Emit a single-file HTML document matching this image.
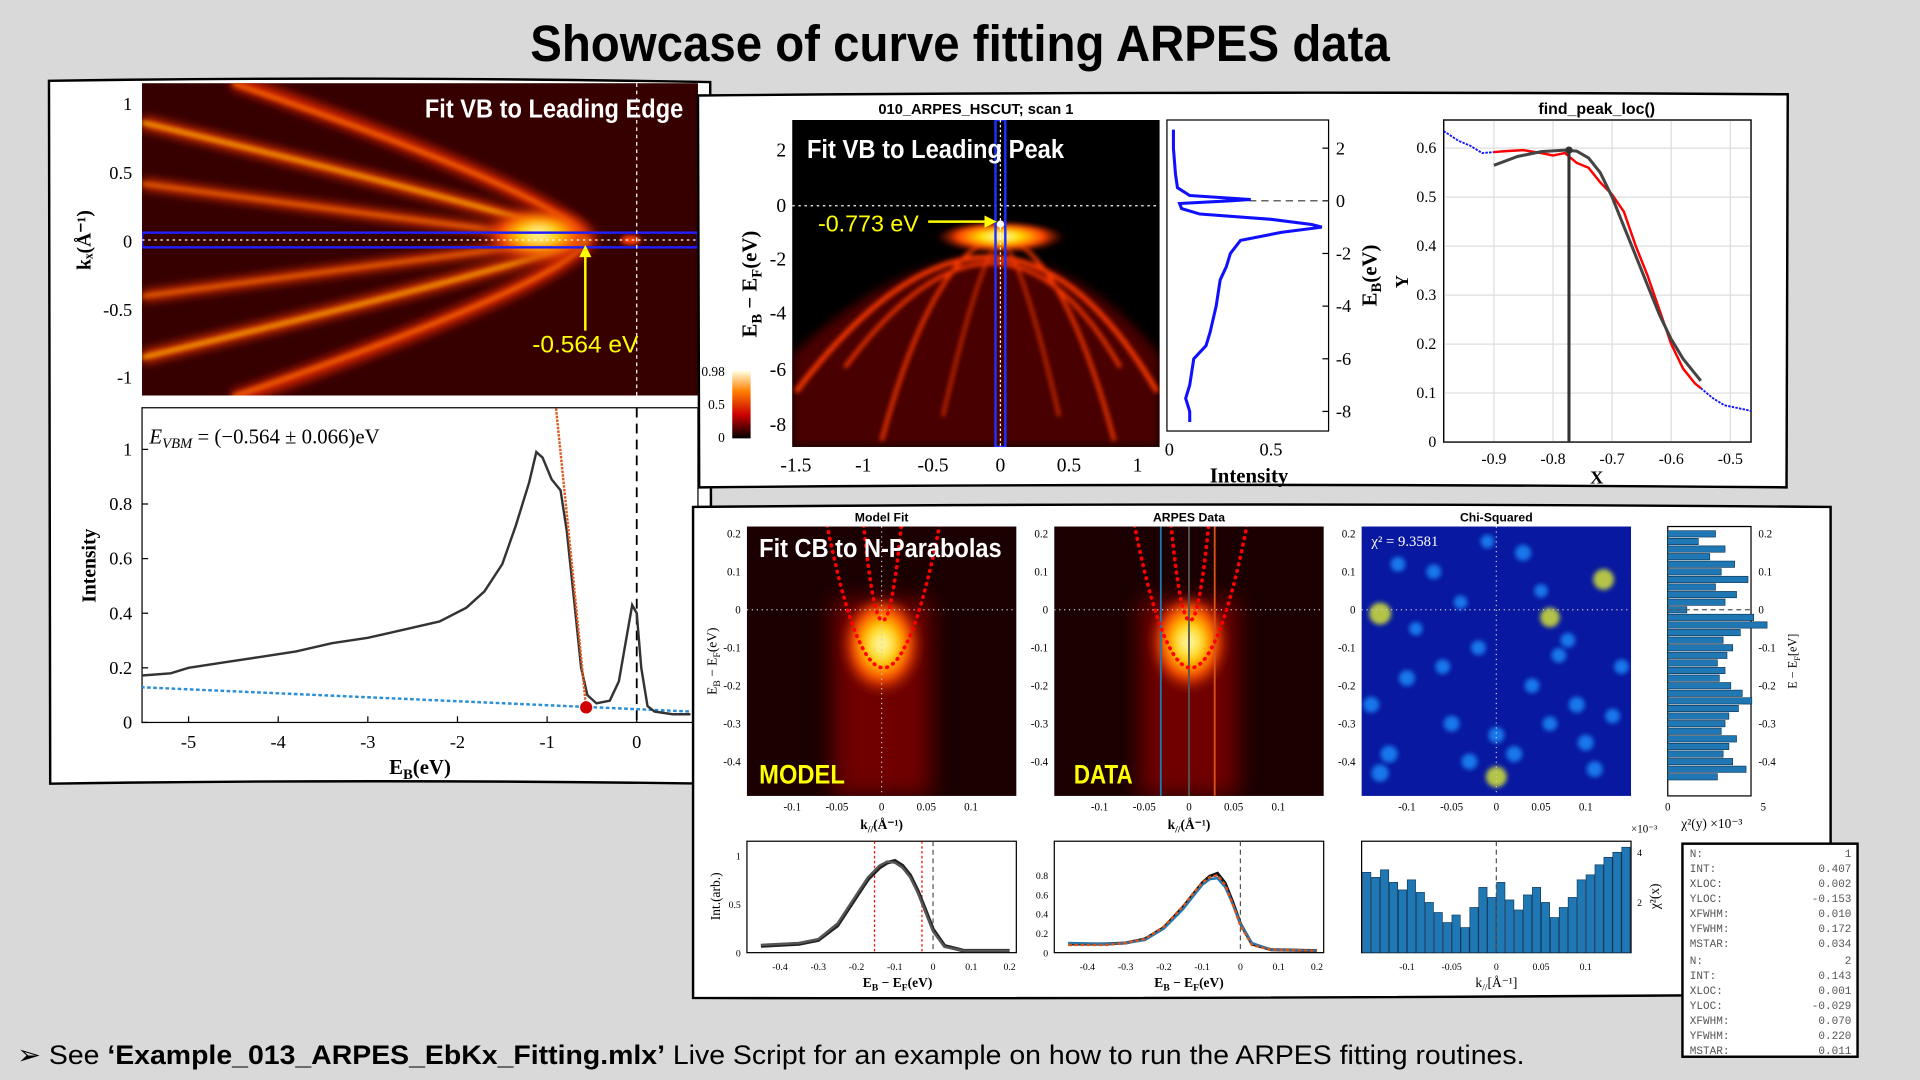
<!DOCTYPE html>
<html><head><meta charset="utf-8"><style>
html,body{margin:0;padding:0;background:#d9d9d9;overflow:hidden}
svg{display:block}
text{font-family:"Liberation Serif",serif}
.n{font-family:"Liberation Sans Narrow","Liberation Sans",sans-serif}
.s{font-family:"Liberation Sans",sans-serif}
.m text{font-family:"Liberation Mono",monospace}
</style></head><body>
<svg id="svg" width="1920" height="1080" viewBox="0 0 1568 882" preserveAspectRatio="none" xmlns="http://www.w3.org/2000/svg">
<defs>
<filter id="bl" x="-20%" y="-20%" width="140%" height="140%"><feGaussianBlur stdDeviation="4"/></filter>
<filter id="bl2" x="-20%" y="-20%" width="140%" height="140%"><feGaussianBlur stdDeviation="2"/></filter>
<filter id="bl8" x="-50%" y="-50%" width="200%" height="200%"><feGaussianBlur stdDeviation="9"/></filter>
<radialGradient id="hot" cx="50%" cy="40%" r="50%"><stop offset="0" stop-color="#fffbe0"/><stop offset="0.3" stop-color="#ffe000"/><stop offset="0.65" stop-color="#ff4000"/><stop offset="1" stop-color="#400000" stop-opacity="0"/></radialGradient>
<linearGradient id="cbar" x1="0" y1="1" x2="0" y2="0"><stop offset="0" stop-color="#000"/><stop offset="0.35" stop-color="#c00"/><stop offset="0.7" stop-color="#ff8000"/><stop offset="1" stop-color="#ffffe0"/></linearGradient>
<clipPath id="c1"><rect x="116" y="68" width="454" height="255"/></clipPath>
<clipPath id="c2"><rect x="647" y="98" width="300" height="267"/></clipPath>
<clipPath id="c3"><rect x="610" y="430" width="220" height="220"/></clipPath>
<clipPath id="c4"><rect x="861" y="430" width="220" height="220"/></clipPath>
</defs>
<rect width="1568" height="882" fill="#d9d9d9"/>
<text x="433" y="50" textLength="702" lengthAdjust="spacingAndGlyphs" class="s" font-size="42" font-weight="bold">Showcase of curve fitting ARPES data</text>

<!-- Panel 1 -->
<g>
<path d="M40 66 Q300 62 580 67 L581 640 Q300 636 41 640 Z" fill="#fff" stroke="#000" stroke-width="2"/>
<g>
<rect x="116" y="68" width="454" height="255" fill="#1a0000"/>
<g clip-path="url(#c1)">
<rect x="116" y="68" width="454" height="255" fill="#4a0000" opacity="0.6"/>
<g fill="none" filter="url(#bl)">
<path d="M190 66 Q460 160 480 196 Q460 232 190 326" stroke-width="12" stroke="#d02000"/>
<path d="M116 100 Q430 175 478 196 Q430 217 116 292" stroke-width="10" stroke="#e03000"/>
<path d="M116 150 Q400 188 470 196 Q400 204 116 242" stroke-width="8" stroke="#e03000"/>
</g>
<g fill="none" filter="url(#bl2)" stroke="#ffb000">
<path d="M190 68 Q460 160 480 196 Q460 232 190 324" stroke-width="3" stroke="#ff7000"/>
<path d="M116 100 Q430 175 478 196 Q430 217 116 292" stroke-width="3"/>
<path d="M116 150 Q400 188 470 196 Q400 204 116 242" stroke-width="2" stroke="#ff8000"/>
</g>
<ellipse cx="440" cy="196" rx="50" ry="24" fill="url(#hot)" filter="url(#bl)"/>
<ellipse cx="515" cy="196" rx="8" ry="4" fill="#ff4000" filter="url(#bl2)"/>
<rect x="116" y="190" width="454" height="12" fill="none" stroke="#2020ff" stroke-width="2"/>
<line x1="116" y1="196" x2="570" y2="196" stroke="#fff" stroke-dasharray="2 3" stroke-width="1"/>
<line x1="520" y1="68" x2="520" y2="323" stroke="#fff" stroke-dasharray="3 3"/>
<line x1="478" y1="270" x2="478" y2="202" stroke="#ff0" stroke-width="2"/>
<path d="M473 210 L478 200 L483 210 Z" fill="#ff0"/>
</g>
<text x="347" y="96" textLength="211" lengthAdjust="spacingAndGlyphs" class="s" font-size="21" font-weight="bold" fill="#fff">Fit VB to Leading Edge</text>
<text x="478" y="288" text-anchor="middle" class="s" font-size="20" fill="#ff0">-0.564 eV</text>
<g font-size="15" text-anchor="end">
<text x="108" y="90">1</text><text x="108" y="146">0.5</text><text x="108" y="202">0</text><text x="108" y="258">-0.5</text><text x="108" y="313">-1</text>
</g>
<text transform="translate(74 196) rotate(-90)" text-anchor="middle" font-size="16" font-weight="bold">kₓ(Å⁻¹)</text>
</g>
<g id="edc1">
<rect x="116" y="333" width="454" height="257" fill="#fff" stroke="#000"/>
<text x="122" y="362" font-size="17" font-style="italic">E<tspan font-size="12" dy="4">VBM</tspan><tspan dy="-4" font-style="normal"> = (−0.564 ± 0.066)eV</tspan></text>
<text transform="translate(78 462) rotate(-90)" text-anchor="middle" font-size="16" font-weight="bold">Intensity</text>
<text x="343" y="632" text-anchor="middle" font-size="17" font-weight="bold">E<tspan font-size="12" dy="4">B</tspan><tspan dy="-4">(eV)</tspan></text>
</g>
</g>

<!-- Panel 2 -->
<g>
<path d="M570 78 Q1000 74 1460 77 L1459 398 Q1000 394 571 398 Z" fill="#fff" stroke="#000" stroke-width="2"/>
<text x="797" y="93" text-anchor="middle" class="s" font-size="12" font-weight="bold">010_ARPES_HSCUT; scan 1</text>
<g>
<rect x="647" y="98" width="300" height="267" fill="#000"/>
<g clip-path="url(#c2)">
<path d="M647 290 Q817 130 947 290 L947 365 L647 365 Z" fill="#4a0000" filter="url(#bl)"/>
<g fill="none" stroke="#ff3a00" filter="url(#bl2)">
<path d="M650 320 Q817 100 945 320" stroke-width="4"/>
<path d="M690 300 Q817 130 915 300" stroke-width="3"/>
<path d="M720 360 Q760 210 817 190 Q870 210 910 360" stroke-width="3"/>
<path d="M770 340 Q800 210 817 195 Q835 210 865 340" stroke-width="2"/>
</g>
<ellipse cx="817" cy="196" rx="55" ry="14" fill="url(#hot)" filter="url(#bl2)"/>
<line x1="647" y1="168" x2="947" y2="168" stroke="#fff" stroke-dasharray="2 3"/>
<rect x="813" y="98" width="8" height="267" fill="none" stroke="#2030ff" stroke-width="2"/>
<line x1="817" y1="98" x2="817" y2="365" stroke="#fff" stroke-dasharray="2 2"/>
<circle cx="817" cy="183" r="3" fill="#fff"/>
<line x1="758" y1="181" x2="810" y2="181" stroke="#ff0" stroke-width="2"/>
<path d="M804 176 L814 181 L804 186 Z" fill="#ff0"/>
</g>
<text x="659" y="129" textLength="210" lengthAdjust="spacingAndGlyphs" class="s" font-size="21" font-weight="bold" fill="#fff">Fit VB to Leading Peak</text>
<text x="668" y="189" class="s" font-size="19" fill="#ff0">-0.773 eV</text>
<g font-size="16" text-anchor="end"><text x="642" y="128">2</text><text x="642" y="173">0</text><text x="642" y="217">-2</text><text x="642" y="261">-4</text><text x="642" y="307">-6</text><text x="642" y="352">-8</text></g>
<g font-size="16" text-anchor="middle"><text x="650" y="385">-1.5</text><text x="705" y="385">-1</text><text x="762" y="385">-0.5</text><text x="817" y="385">0</text><text x="873" y="385">0.5</text><text x="929" y="385">1</text></g>
<text transform="translate(618 232) rotate(-90)" text-anchor="middle" font-size="17" font-weight="bold">E<tspan font-size="12" dy="4">B</tspan><tspan dy="-4"> − E</tspan><tspan font-size="12" dy="4">F</tspan><tspan dy="-4">(eV)</tspan></text>
<rect x="598" y="303" width="15" height="55" fill="url(#cbar)"/>
<g font-size="11" text-anchor="end"><text x="592" y="307">0.98</text><text x="592" y="334">0.5</text><text x="592" y="361">0</text></g>
</g>
<g id="edc2">
<rect x="953" y="98" width="132" height="254" fill="#fff" stroke="#000"/>
<text x="1020" y="394" text-anchor="middle" font-size="17" font-weight="bold">Intensity</text>
<text transform="translate(1124 225) rotate(-90)" text-anchor="middle" font-size="17" font-weight="bold">E<tspan font-size="12" dy="4">B</tspan><tspan dy="-4">(eV)</tspan></text>
</g>
<g id="fpl">
<text x="1304" y="93" text-anchor="middle" class="s" font-size="13" font-weight="bold">find_peak_loc()</text>
<text x="1304" y="395" text-anchor="middle" font-size="15" font-weight="bold">X</text>
<text transform="translate(1150 230) rotate(-90)" text-anchor="middle" font-size="15" font-weight="bold">Y</text>
</g>
</g>

<!-- Panel 3 -->
<g>
<path d="M566 414 Q1000 410 1495 414 L1495 812 Q1000 816 566 815 Z" fill="#fff" stroke="#000" stroke-width="2"/>
<text x="720" y="426" text-anchor="middle" class="s" font-size="10" font-weight="bold">Model Fit</text>
<text x="971" y="426" text-anchor="middle" class="s" font-size="10" font-weight="bold">ARPES Data</text>
<text x="1222" y="426" text-anchor="middle" class="s" font-size="10" font-weight="bold">Chi-Squared</text>
<g id="hm3">
<rect x="610" y="430" width="220" height="220" fill="#1a0000"/>
<g clip-path="url(#c3)">
<rect x="680" y="490" width="80" height="160" fill="#700000" filter="url(#bl8)"/>
<ellipse cx="720" cy="535" rx="36" ry="45" fill="url(#hot)" filter="url(#bl)"/>
<line x1="610" y1="498" x2="830" y2="498" stroke="#ccc" stroke-dasharray="1 3"/>
<line x1="720" y1="430" x2="720" y2="650" stroke="#ccc" stroke-dasharray="1 3"/>
</g>
<text x="620" y="455" textLength="198" lengthAdjust="spacingAndGlyphs" class="s" font-size="21" font-weight="bold" fill="#fff">Fit CB to N-Parabolas</text>
<text x="620" y="640" textLength="70" lengthAdjust="spacingAndGlyphs" class="s" font-size="22" font-weight="bold" fill="#ff0">MODEL</text>
</g>
<g id="hm4">
<rect x="861" y="430" width="220" height="220" fill="#1a0000"/>
<g clip-path="url(#c4)">
<rect x="931" y="490" width="80" height="160" fill="#700000" filter="url(#bl8)"/>
<ellipse cx="971" cy="533" rx="35" ry="44" fill="url(#hot)" filter="url(#bl)"/>
<line x1="861" y1="498" x2="1081" y2="498" stroke="#ccc" stroke-dasharray="1 3"/>
<line x1="948" y1="430" x2="948" y2="650" stroke="#1f77b4" stroke-width="1.5"/>
<line x1="971" y1="430" x2="971" y2="650" stroke="#555" stroke-width="1.5"/>
<line x1="992" y1="430" x2="992" y2="650" stroke="#d95319" stroke-width="1.5"/>
</g>
<text x="877" y="640" textLength="48" lengthAdjust="spacingAndGlyphs" class="s" font-size="22" font-weight="bold" fill="#ff0">DATA</text>
</g>
<g id="chi">
<rect x="1112" y="430" width="220" height="220" fill="#0818a0"/>
<text x="1120" y="446" font-size="12" fill="#fff">χ² = 9.3581</text>
</g>
<g id="axes3"></g>
<text x="720" y="677" text-anchor="middle" font-size="11" font-weight="bold">k<tspan font-size="8" dy="3">//</tspan><tspan dy="-3">(Å⁻¹)</tspan></text>
<text x="971" y="677" text-anchor="middle" font-size="11" font-weight="bold">k<tspan font-size="8" dy="3">//</tspan><tspan dy="-3">(Å⁻¹)</tspan></text>
<text transform="translate(585 540) rotate(-90)" text-anchor="middle" font-size="11">E<tspan font-size="8" dy="3">B</tspan><tspan dy="-3"> − E</tspan><tspan font-size="8" dy="3">F</tspan><tspan dy="-3">(eV)</tspan></text>
<text transform="translate(1467 540) rotate(-90)" text-anchor="middle" font-size="10">E − E<tspan font-size="7" dy="3">F</tspan><tspan dy="-3">[eV]</tspan></text>
<text x="1398" y="676" text-anchor="middle" font-size="11">χ²(y)  ×10⁻³</text>
<text x="733" y="806" text-anchor="middle" font-size="11" font-weight="bold">E<tspan font-size="8" dy="3">B</tspan><tspan dy="-3"> − E</tspan><tspan font-size="8" dy="3">F</tspan><tspan dy="-3">(eV)</tspan></text>
<text x="971" y="806" text-anchor="middle" font-size="11" font-weight="bold">E<tspan font-size="8" dy="3">B</tspan><tspan dy="-3"> − E</tspan><tspan font-size="8" dy="3">F</tspan><tspan dy="-3">(eV)</tspan></text>
<text x="1222" y="806" text-anchor="middle" font-size="11">k<tspan font-size="8" dy="3">//</tspan><tspan dy="-3">[Å⁻¹]</tspan></text>
<text transform="translate(588 732) rotate(-90)" text-anchor="middle" font-size="11">Int.(arb.)</text>
<text transform="translate(1355 732) rotate(-90)" text-anchor="middle" font-size="11">χ²(x)</text>
<text x="1332" y="680" font-size="9">×10⁻³</text>
</g>

<g>
<rect x="1374" y="689" width="143" height="174" fill="#fff" stroke="#000" stroke-width="2"/>
<g id="tbl" class="m" font-size="9" fill="#555"></g>
</g>

<text x="14" y="869" textLength="1231" lengthAdjust="spacingAndGlyphs" class="s" font-size="22">➢  See <tspan font-weight="bold">‘Example_013_ARPES_EbKx_Fitting.mlx’</tspan> Live Script for an example on how to run the ARPES fitting routines.</text>
</svg>
<script>
// ---- data arrays ----
const edc1E = [-5.6,-5.2,-5,-4.6,-4.2,-3.8,-3.4,-3,-2.6,-2.2,-1.9,-1.7,-1.5,-1.35,-1.2,-1.12,-1.05,-0.95,-0.85,-0.78,-0.7,-0.62,-0.55,-0.45,-0.3,-0.2,-0.12,-0.05,0,0.05,0.12,0.2,0.4,0.6];
const edc1I = [0.17,0.18,0.2,0.22,0.24,0.26,0.29,0.31,0.34,0.37,0.42,0.48,0.58,0.72,0.88,0.99,0.97,0.89,0.85,0.7,0.45,0.2,0.1,0.07,0.08,0.15,0.3,0.43,0.4,0.2,0.06,0.04,0.03,0.03];
const edc1FitE = [-0.9,-0.8,-0.7,-0.6,-0.564];
const edc1FitI = [1.15,0.83,0.5,0.17,0.05];
const edc1BgE = [-5.6,0.6];
const edc1BgI = [0.13,0.04];
const edc1Xticks = [-5,-4,-3,-2,-1,0];
const edc1Yticks = [0,0.2,0.4,0.6,0.8,1];

const edc2E = [2.7,2,1,0.5,0.2,0.05,0,-0.1,-0.3,-0.5,-0.7,-0.9,-1,-1.2,-1.5,-2,-2.5,-3,-4,-5,-5.5,-6,-7,-7.5,-8,-8.4];
const edc2I = [0.02,0.02,0.03,0.04,0.1,0.4,0.3,0.05,0.06,0.15,0.5,0.7,0.75,0.55,0.35,0.3,0.28,0.25,0.23,0.2,0.18,0.12,0.1,0.08,0.1,0.1];
const edc2Yticks = [2,0,-2,-4,-6,-8];
const edc2Xticks = [0,0.5];

const fplX = [-0.9,-0.88,-0.85,-0.82,-0.8,-0.78,-0.76,-0.74,-0.72,-0.7,-0.68,-0.66,-0.64,-0.62,-0.6,-0.58,-0.56,-0.55];
const fplY = [0.592,0.594,0.596,0.59,0.585,0.59,0.57,0.56,0.53,0.505,0.47,0.4,0.34,0.27,0.2,0.15,0.12,0.11];
const fitX = [-0.9,-0.86,-0.82,-0.78,-0.76,-0.74,-0.72,-0.7,-0.68,-0.66,-0.64,-0.62,-0.6,-0.58,-0.55];
const fitY = [0.565,0.583,0.593,0.596,0.594,0.58,0.55,0.5,0.44,0.38,0.32,0.26,0.21,0.17,0.125];
const edgeLX = [-0.985,-0.96,-0.94,-0.92,-0.9];
const edgeLY = [0.635,0.615,0.605,0.59,0.592];
const edgeRX = [-0.55,-0.53,-0.51,-0.49,-0.47,-0.465];
const edgeRY = [0.11,0.09,0.075,0.07,0.065,0.063];
const fplXticks = [-0.9,-0.8,-0.7,-0.6,-0.5];
const fplYticks = [0,0.1,0.2,0.3,0.4,0.5,0.6];

const kTicks = [-0.1,-0.05,0,0.05,0.1];
const eTicks = [0.2,0.1,0,-0.1,-0.2,-0.3,-0.4];
const parabA = [0.153,0.029]; // band bottoms (eV below EF)
const parabK0 = [0.002,0.001];
const parabC = [95,570]; // curvature eV/(1/A)^2

const mdcE = [-0.45,-0.35,-0.3,-0.25,-0.2,-0.17,-0.14,-0.12,-0.1,-0.08,-0.06,-0.04,-0.02,0,0.03,0.08,0.2];
const mdcModel = [0.08,0.1,0.14,0.3,0.6,0.78,0.9,0.94,0.93,0.88,0.78,0.62,0.42,0.22,0.06,0.02,0.02];
const mdcData = [0.07,0.09,0.13,0.28,0.58,0.76,0.88,0.93,0.95,0.9,0.8,0.64,0.44,0.24,0.07,0.02,0.02];
const dcE = [-0.45,-0.35,-0.3,-0.25,-0.2,-0.15,-0.12,-0.1,-0.08,-0.06,-0.04,-0.02,0,0.03,0.08,0.2];
const dcBlue = [0.1,0.09,0.1,0.13,0.25,0.45,0.6,0.7,0.76,0.77,0.68,0.5,0.3,0.1,0.03,0.02];
const dcOrange = [0.08,0.08,0.1,0.14,0.27,0.48,0.63,0.72,0.78,0.8,0.7,0.5,0.28,0.08,0.03,0.02];
const dcBlack = [0.09,0.09,0.1,0.14,0.26,0.47,0.62,0.72,0.79,0.82,0.72,0.52,0.3,0.09,0.03,0.02];

const chiXk = [-0.145,-0.135,-0.125,-0.115,-0.105,-0.095,-0.085,-0.075,-0.065,-0.055,-0.045,-0.035,-0.025,-0.015,-0.005,0.005,0.015,0.025,0.035,0.045,0.055,0.065,0.075,0.085,0.095,0.105,0.115,0.125,0.135,0.145];
const chiXval = [3.2,3.0,3.3,2.8,2.5,2.9,2.4,2.0,1.6,1.2,1.5,1.0,1.8,2.6,2.2,2.8,2.1,1.7,2.3,2.6,2.0,1.4,1.8,2.2,2.9,3.1,3.5,3.8,4.0,4.2];
const chiYe = [0.2,0.18,0.16,0.14,0.12,0.1,0.08,0.06,0.04,0.02,0,-0.02,-0.04,-0.06,-0.08,-0.1,-0.12,-0.14,-0.16,-0.18,-0.2,-0.22,-0.24,-0.26,-0.28,-0.3,-0.32,-0.34,-0.36,-0.38,-0.4,-0.42,-0.44];
const chiYval = [2.5,1.6,3.0,2.2,3.5,2.8,4.2,2.5,3.6,3.0,1.0,4.5,5.2,3.8,2.9,3.4,3.1,2.6,3.0,2.7,3.3,3.9,4.4,3.7,3.2,3.0,2.8,3.6,3.2,2.9,3.4,4.1,2.6];
const chiHotK = [-0.13,0.12,0.06,0.0,-0.1,-0.05,0.03,0.09,-0.02,0.1,-0.12,-0.07,0.07,-0.03,0.04,-0.14,-0.09,0.13,0.0,-0.06,0.05,0.11,-0.11,0.02,-0.01,0.08,-0.13,0.14,-0.04,0.06];
const chiHotE = [-0.01,0.08,-0.02,-0.44,-0.18,-0.3,0.15,-0.25,-0.1,-0.35,-0.38,0.1,-0.12,-0.4,-0.2,-0.25,-0.05,-0.28,-0.33,-0.15,0.05,-0.42,0.12,-0.38,0.18,-0.08,-0.43,-0.15,0.02,-0.3];
const chiHotV = [1,0.9,0.8,0.9,0.5,0.5,0.5,0.5,0.4,0.5,0.6,0.4,0.4,0.5,0.4,0.5,0.3,0.4,0.5,0.4,0.3,0.5,0.4,0.5,0.3,0.4,0.6,0.4,0.3,0.4];

const tblLabels = ['N:','INT:','XLOC:','YLOC:','XFWHM:','YFWHM:','MSTAR:','N:','INT:','XLOC:','YLOC:','XFWHM:','YFWHM:','MSTAR:'];
const tblValues = ['1','0.407','0.002','-0.153','0.010','0.172','0.034','2','0.143','0.001','-0.029','0.070','0.220','0.011'];

// ---- helpers ----
const NS='http://www.w3.org/2000/svg';
const svg=document.getElementById('svg');
function mk(tag,attrs,parent){const e=document.createElementNS(NS,tag);for(const k in attrs)e.setAttribute(k,attrs[k]);(parent||svg).appendChild(e);return e;}
function lin(d0,d1,r0,r1){return v=>r0+(v-d0)*(r1-r0)/(d1-d0);}
function pathD(xs,ys,sx,sy){return xs.map((x,i)=>(i?'L':'M')+sx(x).toFixed(1)+' '+sy(ys[i]).toFixed(1)).join(' ');}
function txt(x,y,s,attrs,parent){const t=mk('text',Object.assign({x:x,y:y},attrs),parent);t.textContent=s;return t;}

// ---- panel 1 EDC ----
(function(){
const g=document.getElementById('edc1');
const sx=lin(-5,0,154,520), sy=lin(0,1,590,367);
edc1Xticks.forEach(v=>{mk('line',{x1:sx(v),y1:590,x2:sx(v),y2:585,stroke:'#000'},g);txt(sx(v),611,String(v),{'font-size':15,'text-anchor':'middle'},g);});
edc1Yticks.forEach(v=>{mk('line',{x1:116,y1:sy(v),x2:121,y2:sy(v),stroke:'#000'},g);txt(108,sy(v)+5,String(v),{'font-size':15,'text-anchor':'end'},g);});
const cl=mk('clipPath',{id:'ce1'},g);mk('rect',{x:116,y:333,width:454,height:257},cl);
const gg=mk('g',{'clip-path':'url(#ce1)'},g);
mk('line',{x1:sx(0),y1:333,x2:sx(0),y2:590,stroke:'#000','stroke-dasharray':'8 5','stroke-width':1.5},gg);
const bg=mk('path',{d:pathD(edc1BgE,edc1BgI,sx,sy),stroke:'#2b8fd6','stroke-width':2,'stroke-dasharray':'3 2',fill:'none'},gg);


const l=mk('path',{d:pathD(edc1E,edc1I,sx,sy),stroke:'#333','stroke-width':2,fill:'none'},gg);


const f=mk('path',{d:pathD(edc1FitE,edc1FitI,sx,sy),stroke:'#e05a20','stroke-width':2,'stroke-dasharray':'2 1',fill:'none'},gg);


const c=mk('circle',{cx:sx(-0.564),cy:sy(0.055),r:5,fill:'#d00000'},gg);


})();

// ---- panel 2 EDC ----
(function(){
const g=document.getElementById('edc2');
const sx=lin(0,0.5,955,1038), sy=lin(0,2,164,121);
edc2Yticks.forEach(v=>{mk('line',{x1:1085,y1:sy(v),x2:1080,y2:sy(v),stroke:'#000'},g);txt(1091,sy(v)+5,String(v),{'font-size':15},g);});
edc2Xticks.forEach(v=>{txt(sx(v),372,String(v),{'font-size':15,'text-anchor':'middle'},g);});
mk('line',{x1:1020,y1:164,x2:1085,y2:164,stroke:'#333','stroke-dasharray':'6 4'},g);
const p=mk('path',{d:pathD(edc2I,edc2E,sx,sy),stroke:'#1010ff','stroke-width':2.5,fill:'none'},g);


})();

// ---- find_peak_loc ----
(function(){
const g=document.getElementById('fpl');
const sx=lin(-0.985,-0.465,1179,1430), sy=lin(0,0.6,361,121);
mk('rect',{x:1179,y:98,width:251,height:263,fill:'#fff',stroke:'#000'},g);
fplXticks.forEach(v=>{mk('line',{x1:sx(v),y1:98,x2:sx(v),y2:361,stroke:'#ddd'},g);txt(sx(v),379,String(v),{'font-size':13,'text-anchor':'middle'},g);});
fplYticks.forEach(v=>{mk('line',{x1:1179,y1:sy(v),x2:1430,y2:sy(v),stroke:'#ddd'},g);txt(1173,sy(v)+4,String(v),{'font-size':13,'text-anchor':'end'},g);});
mk('rect',{x:1179,y:98,width:251,height:263,fill:'none',stroke:'#000'},g);
let e=mk('path',{d:pathD(edgeLX,edgeLY,sx,sy),stroke:'#1010ff','stroke-width':1.5,'stroke-dasharray':'2 1',fill:'none'},g);


e=mk('path',{d:pathD(edgeRX,edgeRY,sx,sy),stroke:'#1010ff','stroke-width':1.5,'stroke-dasharray':'2 1',fill:'none'},g);


const r=mk('path',{d:pathD(fplX,fplY,sx,sy),stroke:'#f00','stroke-width':2,fill:'none'},g);


const k=mk('path',{d:pathD(fitX,fitY,sx,sy),stroke:'#444','stroke-width':2.5,fill:'none'},g);


const v=mk('line',{x1:sx(-0.773),y1:sy(0.596),x2:sx(-0.773),y2:361,stroke:'#333','stroke-width':2.5},g);


mk('circle',{cx:sx(-0.773),cy:sy(0.596),r:3,fill:'#333'},g);
})();

// ---- panel 3 heatmaps and axes ----
(function(){
const a=document.getElementById('axes3');
const ey=lin(0,0.2,498,436);
[[610,'hm3'],[861,'hm4'],[1112,'chi']].forEach(([x0,id])=>{
 const kx=lin(0,0.1,x0+110,x0+183);
 kTicks.forEach(v=>txt(kx(v),662,String(v),{'font-size':9,'text-anchor':'middle'},a));
 eTicks.forEach(v=>txt(x0-5,ey(v)+3,String(v),{'font-size':9,'text-anchor':'end'},a));
 if(id!=='chi'){
  const g=document.getElementById(id);
  const cp=g.querySelector('g');
  parabA.forEach((eb,i)=>{
   const ks=[],es=[];
   const half=Math.sqrt((0.24+eb)/parabC[i]);
   for(let j=0;j<=30;j++){const k=parabK0[i]-half+j*2*half/30;const d=k-parabK0[i];ks.push(k);es.push(-eb+parabC[i]*d*d);}
   const p=mk('path',{d:pathD(ks,es,kx,ey),stroke:'#f00','stroke-width':3,'stroke-dasharray':'0.5 5','stroke-linecap':'round',fill:'none'},cp);
   
   
  });
 } else {
  const g=document.getElementById('chi');
  const cl=mk('clipPath',{id:'cchi'},g);mk('rect',{x:1112,y:430,width:220,height:220},cl);
  const cg=mk('g',{'clip-path':'url(#cchi)'},g);
  g.insertBefore(cg,g.querySelector('text'));
  for(let i=0;i<chiHotK.length;i++){
   const v=chiHotV[i];
   const c=mk('circle',{cx:kx(chiHotK[i]),cy:ey(chiHotE[i]),r:4+v*5,fill:v>0.7?'#e0f030':'#1e90ff',opacity:0.8,filter:'url(#bl2)'},cg);
   
   
  }
  mk('line',{x1:1112,y1:498,x2:1332,y2:498,stroke:'#ccc','stroke-dasharray':'1 3'},cg);
  mk('line',{x1:kx(0),y1:430,x2:kx(0),y2:650,stroke:'#ccc','stroke-dasharray':'1 3'},cg);
 }
});
// chi(y) histogram
const hx=lin(0,5,1362,1440);
mk('rect',{x:1362,y:430,width:68,height:220,fill:'#fff',stroke:'#000'},a);
chiYe.forEach((e,i)=>{const b=mk('rect',{x:1362,y:ey(e)-2.6,width:hx(chiYval[i])-1362,height:5.2,fill:'#1f77b4',stroke:'#0a3050','stroke-width':0.5},a);
 
 });
mk('line',{x1:1362,y1:498,x2:1430,y2:498,stroke:'#555','stroke-dasharray':'4 3'},a);
eTicks.forEach(v=>txt(1436,ey(v)+3,String(v),{'font-size':9},a));
[0,5].forEach(v=>txt(hx(v),662,String(v),{'font-size':9,'text-anchor':'middle'},a));
// bottom plots
const bx=(x0)=>lin(0,-0.4,x0+152,x0+27);
const by=lin(0,1,778,699);
[[610,[0,0.5,1]],[861,[0,0.2,0.4,0.6,0.8]]].forEach(([x0,yt])=>{
 mk('rect',{x:x0,y:687,width:220,height:91,fill:'#fff',stroke:'#000'},a);
 const sx=bx(x0);
 [-0.4,-0.3,-0.2,-0.1,0,0.1,0.2].forEach(v=>txt(sx(v),792,String(v),{'font-size':8,'text-anchor':'middle'},a));
 yt.forEach(v=>txt(x0-5,by(v)+3,String(v),{'font-size':8,'text-anchor':'end'},a));
 mk('line',{x1:sx(0),y1:687,x2:sx(0),y2:778,stroke:'#555','stroke-dasharray':'4 3'},a);
});
let sx=bx(610);
mk('line',{x1:sx(-0.153),y1:687,x2:sx(-0.153),y2:778,stroke:'#f00','stroke-dasharray':'2 2'},a);
mk('line',{x1:sx(-0.029),y1:687,x2:sx(-0.029),y2:778,stroke:'#f00','stroke-dasharray':'2 2'},a);
let p=mk('path',{d:pathD(mdcE,mdcData,sx,by),stroke:'#222','stroke-width':3,fill:'none'},a);


p=mk('path',{d:pathD(mdcE,mdcModel,sx,by),stroke:'#555','stroke-width':2,fill:'none'},a);


sx=bx(861);
p=mk('path',{d:pathD(dcE,dcBlack,sx,by),stroke:'#111','stroke-width':2.5,fill:'none'},a);


p=mk('path',{d:pathD(dcE,dcBlue,sx,by),stroke:'#1f77b4','stroke-width':2,fill:'none'},a);


p=mk('path',{d:pathD(dcE,dcOrange,sx,by),stroke:'#d95319','stroke-width':2,'stroke-dasharray':'3 2',fill:'none'},a);


// chi(x) histogram
const cx=lin(0,0.1,1222,1295), cy=lin(0,4,778,696);
mk('rect',{x:1112,y:687,width:220,height:91,fill:'#fff',stroke:'#000'},a);
chiXk.forEach((k,i)=>{const b=mk('rect',{x:cx(k)-3.4,y:cy(chiXval[i]),width:6.8,height:778-cy(chiXval[i]),fill:'#1f77b4',stroke:'#0a3050','stroke-width':0.5},a);
 
 });
mk('line',{x1:1222,y1:687,x2:1222,y2:778,stroke:'#555','stroke-dasharray':'4 3'},a);
kTicks.forEach(v=>txt(cx(v),792,String(v),{'font-size':8,'text-anchor':'middle'},a));
[2,4].forEach(v=>txt(1337,cy(v)+3,String(v),{'font-size':8},a));
})();

// ---- table ----
(function(){
const g=document.getElementById('tbl');
tblLabels.forEach((l,i)=>{const y=700+i*12.2+(i>=7?2:0);txt(1380,y,l,{},g);txt(1512,y,tblValues[i],{'text-anchor':'end'},g);});
})();
</script>
</body></html>
